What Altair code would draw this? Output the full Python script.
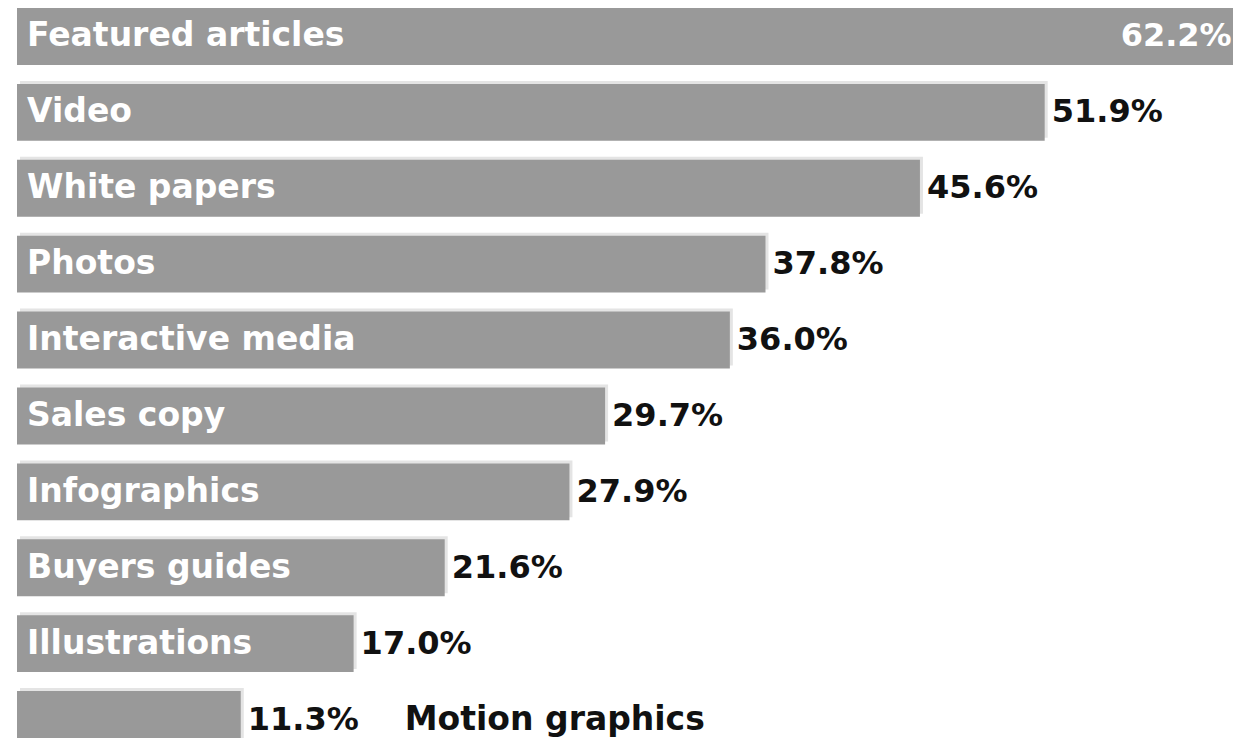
import altair as alt
import pandas as pd

categories = ["Featured articles", "Video", "White papers", "Photos", "Interactive media",
              "Sales copy", "Infographics", "Buyers guides", "Illustrations", "Motion graphics"]
values = [62.2, 51.9, 45.6, 37.8, 36.0, 29.7, 27.9, 21.6, 17.0, 11.3]
labels = [f"{v:.1f}%" for v in values]

df = pd.DataFrame({"cat": categories, "value": values, "label": labels})
df["start"] = 0.0

FONT = "DejaVu Sans"
FS_CAT = 33
FS_VAL = 32

yenc = alt.Y("cat:N", sort=categories, axis=None,
             scale=alt.Scale(range=[0, 740], paddingInner=0.25, paddingOuter=0))
xscale = alt.Scale(domain=[0, 61.41], nice=False, zero=True)
xenc = alt.X("value:Q", axis=None, scale=xscale)

base = alt.Chart(df).encode(y=yenc)

light = base.mark_bar(color="#e4e4e4", yOffset=-3, xOffset=3).encode(x=xenc)
dark = base.mark_bar(color="#999999").encode(x=xenc)

inner_cat = base.transform_filter("datum.value >= 15").mark_text(
    align="left", baseline="middle", dx=10, color="#ffffff",
    font=FONT, fontSize=FS_CAT, fontWeight="bold"
).encode(x=alt.X("start:Q", axis=None, scale=xscale), text="cat:N")

outer_cat = base.transform_filter("datum.value < 15").mark_text(
    align="left", baseline="middle", dx=164, color="#111111",
    font=FONT, fontSize=FS_CAT, fontWeight="bold"
).encode(x=xenc, text="cat:N")

outer_val = base.transform_filter("datum.value < 60").mark_text(
    align="left", baseline="middle", dx=7, color="#111111",
    font=FONT, fontSize=FS_VAL, fontWeight="bold"
).encode(x=xenc, text="label:N")

inner_val = base.transform_filter("datum.value >= 60").mark_text(
    align="right", baseline="middle", dx=-17, color="#ffffff",
    font=FONT, fontSize=FS_VAL, fontWeight="bold"
).encode(x=xenc, text="label:N")

chart = alt.layer(light, dark, inner_cat, outer_cat, outer_val, inner_val).properties(
    width=1216, height=730,
    autosize=alt.AutoSizeParams(type="none"),
    padding={"left": 9, "top": 0, "right": 0, "bottom": 0},
    background="#ffffff",
).configure_view(stroke=None)

chart.save("out.html", embed_options={"renderer": "svg", "actions": False})
